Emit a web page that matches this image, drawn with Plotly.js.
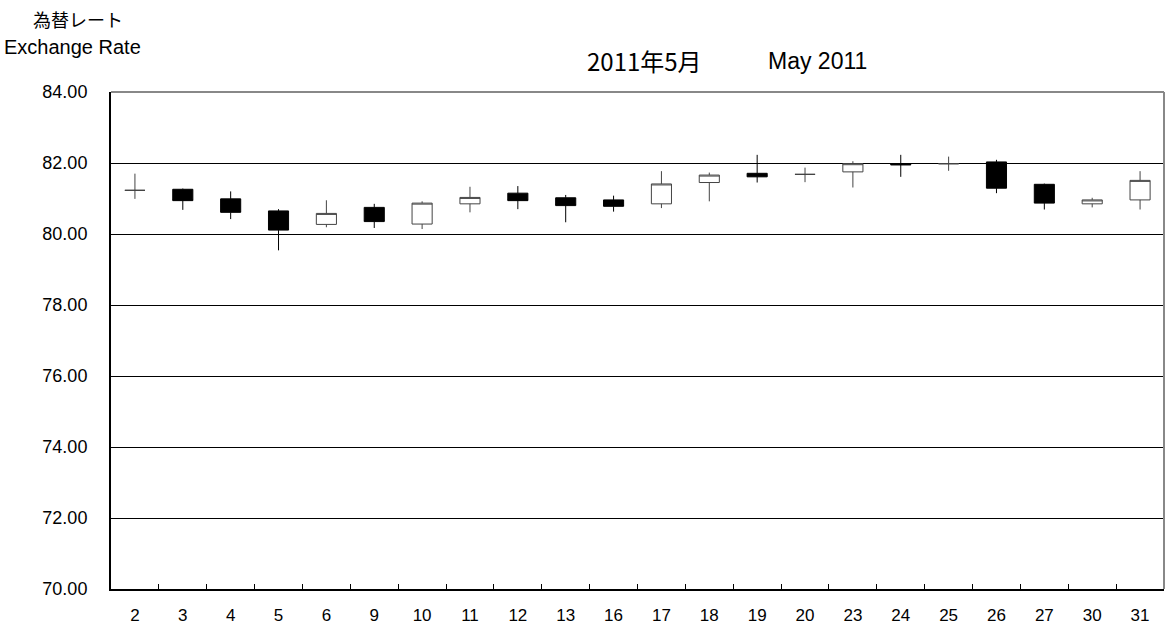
<!DOCTYPE html>
<html>
<head>
<meta charset="utf-8">
<script src="https://cdn.plot.ly/plotly-3.0.1.min.js"></script>
<style>html,body{margin:0;padding:0;background:#fff;}#chart{width:1167px;height:628px;}</style>
</head>
<body>
<div id="chart"></div>
<script>
const days = ["2","3","4","5","6","9","10","11","12","13","16","17","18","19","20","23","24","25","26","27","30","31"];
const openVals  = [81.23,81.26,80.99,80.65,80.27,80.75,80.28,80.85,81.15,81.02,80.96,80.85,81.45,81.71,81.68,81.75,81.97,81.98,82.03,81.40,80.85,80.96];
const highVals  = [81.70,81.28,81.20,80.70,80.95,80.85,80.92,81.33,81.35,81.10,81.08,81.77,81.73,82.23,81.87,82.05,82.23,82.18,82.09,81.42,81.02,81.77];
const lowVals   = [80.99,80.68,80.42,79.54,80.19,80.17,80.14,80.61,80.70,80.33,80.63,80.73,80.92,81.45,81.46,81.31,81.61,81.78,81.15,80.69,80.75,80.69];
const closeVals = [81.23,80.94,80.61,80.11,80.58,80.35,80.87,81.03,80.94,80.80,80.78,81.41,81.66,81.61,81.68,81.98,81.95,81.98,81.29,80.87,80.96,81.51];

const trace = {
  type: 'candlestick',
  x: days, open: openVals, high: highVals, low: lowVals, close: closeVals,
  increasing: {line: {color: '#444', width: 1}, fillcolor: '#ffffff'},
  decreasing: {line: {color: '#000', width: 1}, fillcolor: '#000000'},
  whiskerwidth: 0,
  hoverinfo: 'skip'
};

const numFont = 'Liberation Sans, Arial, sans-serif';
const jpFont = 'Noto Sans CJK JP, sans-serif';

const layout = {
  width: 1167, height: 628,
  margin: {l: 111, r: 3, t: 92, b: 39},
  paper_bgcolor: '#fff', plot_bgcolor: '#fff',
  showlegend: false,
  boxgap: 0.58, boxgroupgap: 0,
  font: {family: numFont, color: '#000', size: 17},
  xaxis: {
    type: 'category', rangeslider: {visible: false},
    showline: true, linecolor: '#000', linewidth: 2,
    ticks: 'inside', tickson: 'boundaries', ticklen: 5, tickcolor: '#000', tickwidth: 1,
    showgrid: false, zeroline: false, ticklabelstandoff: 10,
    tickfont: {size: 17, family: numFont}
  },
  yaxis: {
    range: [70, 84], dtick: 2, tick0: 70, tickformat: '.2f',
    showline: true, linecolor: '#000', linewidth: 2,
    ticks: '', showgrid: true, gridcolor: '#000', gridwidth: 1,
    zeroline: false, ticklabelstandoff: 18,
    tickfont: {size: 18, family: numFont}
  },
  shapes: [
    {type: 'line', xref: 'paper', yref: 'paper', x0: 0, x1: 1, y0: 1, y1: 1, line: {color: '#888', width: 2}, layer: 'above'},
    {type: 'line', xref: 'paper', yref: 'paper', x0: 1, x1: 1, y0: 0, y1: 1, line: {color: '#888', width: 2}, layer: 'above'}
  ],
  annotations: [
    {text: '2011年5月', xref: 'paper', yref: 'paper', x: 0.5062, y: 1.0624, xanchor: 'center', yanchor: 'middle', showarrow: false,
     font: {size: 24, family: jpFont}},
    {text: 'May 2011', xref: 'paper', yref: 'paper', x: 0.6714, y: 1.0624, xanchor: 'center', yanchor: 'middle', showarrow: false,
     font: {size: 23, family: numFont}},
    {text: '為替レート', xref: 'paper', yref: 'paper', x: -0.0313, y: 1.1469, xanchor: 'center', yanchor: 'middle', showarrow: false,
     font: {size: 18, family: jpFont}},
    {text: 'Exchange Rate', xref: 'paper', yref: 'paper', x: -0.0361, y: 1.0905, xanchor: 'center', yanchor: 'middle', showarrow: false,
     font: {size: 20, family: numFont}}
  ]
};

Plotly.newPlot('chart', [trace], layout, {displayModeBar: false, staticPlot: true});
</script>
</body>
</html>
